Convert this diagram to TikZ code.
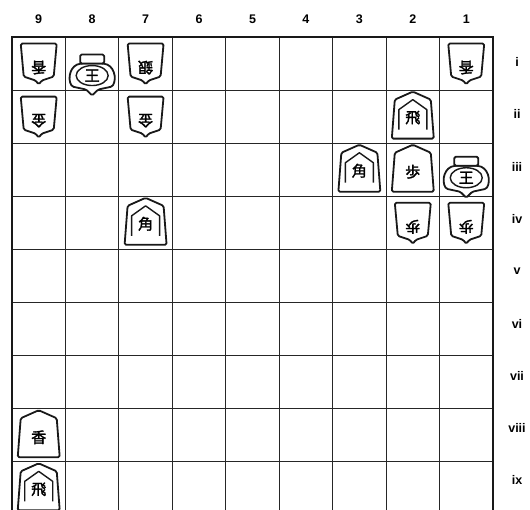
\documentclass[tikz,border=0pt]{standalone}
\usepackage{fontspec}
\setmainfont{Liberation Sans}
\newfontfamily\jp{Noto Sans CJK JP}[FakeBold=2]
\newcommand\cx[1]{12+53.44*(9-#1+0.5)}
\newcommand\cy[1]{37+53.1*(#1-0.5)}
% upright (sente) piece
\newcommand\PU[4]{%
 \begin{scope}[shift={({\cx{#1}},{\cy{#2}})}]
  \draw[piece] (0,-25) -- (18,-17) -- (21,22) -- (-21,22) -- (-18,-17) -- cycle;
  \node[kanji] (#4) at (0,2) {#3};
 \end{scope}}
% upright piece with inner crest (rook, bishop)
\newcommand\PUB[4]{%
 \begin{scope}[shift={({\cx{#1}},{\cy{#2}})}]
  \draw[piece] (0,-25) -- (18,-17) -- (21,22) -- (-21,22) -- (-18,-17) -- cycle;
  \draw[crest] (-14,13) -- (-14,-7) -- (0,-17) -- (14,-7) -- (14,13);
  \node[kanji] (#4) at (0,1) {#3};
 \end{scope}}
% inverted (gote) piece
\newcommand\PD[4]{%
 \begin{scope}[shift={({\cx{#1}},{\cy{#2}})}]
  \draw[piece] (-18,-20) -- (18,-20) -- (15,13) -- (3,17) -- (0,21) -- (-3,17) -- (-15,13) -- cycle;
  \node[kanji,rotate=180] (#4) at (0,4) {#3};
 \end{scope}}
% king
\newcommand\KG[4]{% col row offset name
 \begin{scope}[shift={({\cx{#1}},{\cy{#2}+#3})}]
  \draw[piece] (-10,-6) .. controls (-22,-5) and (-25,9) .. (-20,17) -- (-6,20) -- (0,26) -- (6,20) -- (20,17) .. controls (25,9) and (22,-5) .. (10,-6) -- cycle;
  \draw[piece] (-12,-15) rectangle (12,-6);
  \draw[crest] (0,6) ellipse [x radius=16, y radius=10];
  \node[kanji] (#4) at (0,6) {王};
 \end{scope}}
\begin{document}
\begin{tikzpicture}[x=1pt,y=-1pt,
  grid/.style={line width=1.1pt, draw=black!85},
  frame/.style={line width=2.2pt, draw=black!90},
  piece/.style={line width=1.8pt, fill=white, line join=round, rounded corners=1.5pt, draw=black!90},
  crest/.style={line width=1.4pt, line join=round, draw=black!90},
  kanji/.style={font=\jp\fontsize{15}{15}\selectfont, inner sep=0pt},
  lbl/.style={font=\bfseries\fontsize{12.5}{12.5}\selectfont, inner sep=0pt}]
\useasboundingbox (0,0) rectangle (530,510);
\clip (0,0) rectangle (530,510);
\fill[white] (0,0) rectangle (530,510);
% board
\foreach \k in {1,...,8}
  \draw[grid] ({12+53.44*\k},37) -- ({12+53.44*\k},515);
\foreach \r in {1,...,8}
  \draw[grid] (12,{37+53.1*\r}) -- (493,{37+53.1*\r});
\draw[frame] (12,37) rectangle (493,516);
% column labels
\foreach \c in {9,8,7,6,5,4,3,2,1}
  \node[lbl] (col\c) at ({\cx{\c}},19) {\c};
% row labels
\foreach \r/\t in {1/i,2/ii,3/iii,4/iv,5/v,6/vi,7/vii,8/viii,9/ix}
  \node[lbl] (row\t) at (517,{62+52.3*(\r-1)}) {\t};
% gote pieces
\PD{9}{1}{香}{p9i}
\PD{7}{1}{銀}{p7i}
\PD{1}{1}{香}{p1i}
\PD{9}{2}{金}{p9ii}
\PD{7}{2}{金}{p7ii}
\PD{2}{4}{歩}{p2iv}
\PD{1}{4}{歩}{p1iv}
% kings
\KG{8}{1}{6}{p8i}
\KG{1}{3}{2}{p1iii}
% sente pieces
\PUB{2}{2}{飛}{p2ii}
\PUB{3}{3}{角}{p3iii}
\PU{2}{3}{歩}{p2iii}
\PUB{7}{4}{角}{p7iv}
\PU{9}{8}{香}{p9viii}
\PUB{9}{9}{飛}{p9ix}
\end{tikzpicture}
\end{document}
